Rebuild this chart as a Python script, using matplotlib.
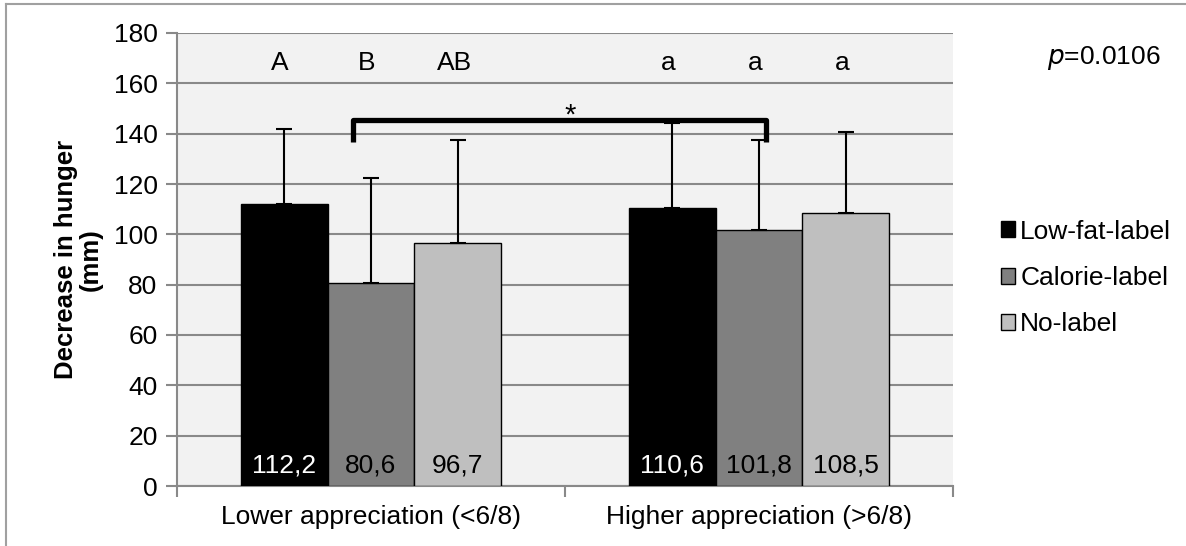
import numpy as np
import matplotlib
matplotlib.use("Agg")
import matplotlib.pyplot as plt
from matplotlib.lines import Line2D
from matplotlib.patches import Patch

plt.rcParams["font.family"] = ["Liberation Sans", "DejaVu Sans"]

# ===== data =====
groups = ["Lower appreciation (<6/8)", "Higher appreciation (>6/8)"]
series = ["Low-fat-label", "Calorie-label", "No-label"]
colors = ["#000000", "#808080", "#bfbfbf"]
label_colors = ["white", "black", "black"]
means = [[112.2, 110.6], [80.6, 101.8], [96.7, 108.5]]
sd_up = [[29.6, 33.5], [41.6, 35.5], [40.8, 32.1]]
letters = [["A", "a"], ["B", "a"], ["AB", "a"]]
value_labels = [["112,2", "110,6"], ["80,6", "101,8"], ["96,7", "108,5"]]
p_text = "=0.0106"

grid_c = "#898989"
fs = 19

fig = plt.figure(figsize=(11.86, 5.46), dpi=100)
ax = fig.add_axes([177 / 1186, 60 / 546, 776 / 1186, 453 / 546])
ax.set_facecolor("#f2f2f2")

x = np.arange(len(groups))
w = 0.224
for i, s in enumerate(series):
    xs = x + (i - 1) * w
    ax.bar(xs, means[i], width=w, color=colors[i], edgecolor="black",
           linewidth=1.0, label=s, zorder=3)
    ax.errorbar(xs, means[i], yerr=[np.zeros(len(groups)), sd_up[i]],
                fmt="none", ecolor="black", elinewidth=1.5, capsize=6,
                capthick=1.5, zorder=4)
    for j in range(len(groups)):
        ax.text(xs[j], 8, value_labels[i][j], ha="center", va="center",
                color=label_colors[i], fontsize=fs, zorder=5)
        ax.text(xs[j] - 0.01, 168, letters[i][j], ha="center", va="center",
                fontsize=fs, zorder=5)

# significance bracket
bx1, bx2, by_low, by_top = -0.046, 1.018, 136.8, 145.4
ax.plot([bx1, bx1, bx2, bx2], [by_low, by_top, by_top, by_low], color="black",
        lw=3.8, solid_joinstyle="round", solid_capstyle="butt", zorder=6)
ax.text(0.513, 147.0, "*", ha="center", va="center", fontsize=fs + 2, zorder=6)

ax.set_xlim(-0.5, 1.5)
ax.set_ylim(0, 180)
ax.set_yticks(np.arange(0, 181, 20))
ax.yaxis.grid(True, color=grid_c, lw=1.5, zorder=0)
ax.set_axisbelow(True)

ax.set_xticks(x)
ax.set_xticklabels(groups, fontsize=fs)
ax.tick_params(axis="x", which="major", length=0, pad=14)
ax.set_xticks([-0.5, 0.5, 1.5], minor=True)
ax.tick_params(axis="x", which="minor", length=8, width=1.5, color=grid_c)
ax.tick_params(axis="y", length=8, width=1.5, color=grid_c, labelsize=fs, pad=6)

for side in ["top", "right"]:
    ax.spines[side].set_visible(False)
for side in ["left", "bottom"]:
    ax.spines[side].set_color(grid_c)
    ax.spines[side].set_linewidth(1.5)

ax.set_ylabel("Decrease in hunger\n(mm)", fontsize=18.5, fontweight="bold",
              labelpad=8, linespacing=1.0)

# p-value
fig.text(1047 / 1186, 1 - 58 / 546, "$\\it{p}$" + p_text, ha="left",
         va="center", fontsize=fs)

handles = [Patch(facecolor=c, edgecolor="black", linewidth=1.0) for c in colors]
fig.legend(handles, series, loc="center left",
           bbox_to_anchor=(990 / 1186, 1 - 278 / 546), frameon=False,
           fontsize=fs, handlelength=0.55, handleheight=0.55,
           handletextpad=0.2, labelspacing=0.85, borderaxespad=0)

# outer frame
fig.add_artist(Line2D([6 / 1186, 6 / 1186], [0, 1 - 4 / 546], color="#a0a0a0", lw=1.5))
fig.add_artist(Line2D([6 / 1186, 1], [1 - 4 / 546, 1 - 4 / 546], color="#a0a0a0", lw=1.5))

fig.savefig("out.png", dpi=100)
